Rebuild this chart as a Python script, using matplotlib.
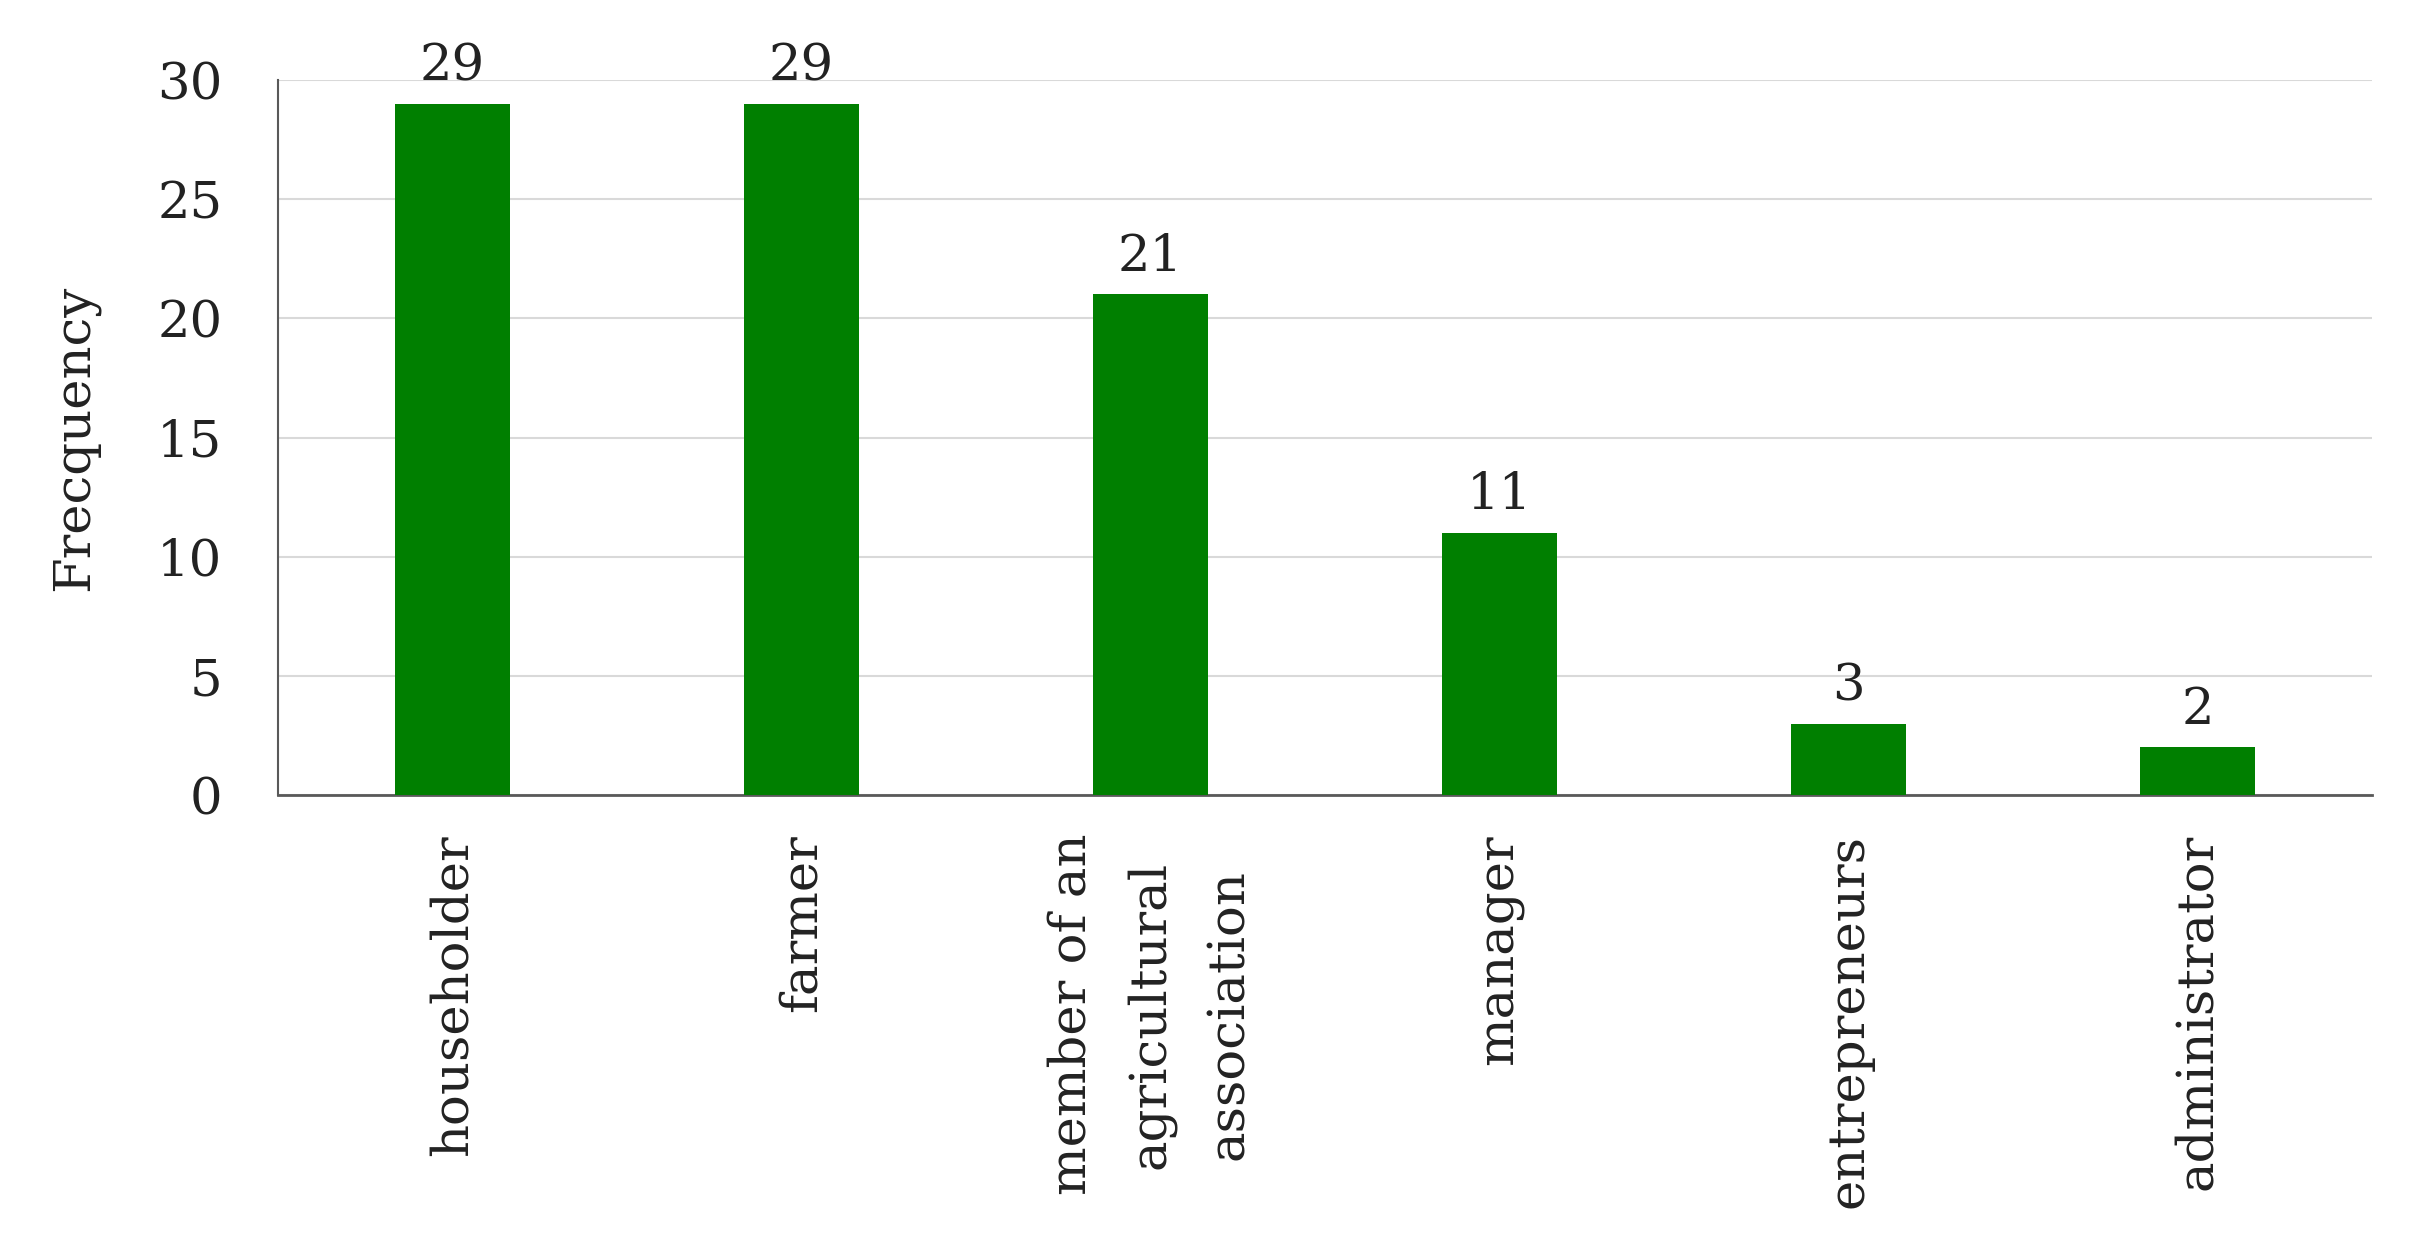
import matplotlib.pyplot as plt

categories = ["householder", "farmer", "member of an\nagricultural\nassociation",
              "manager", "entrepreneurs", "administrator"]
frequency = [29, 29, 21, 11, 3, 2]
yticks = [0, 5, 10, 15, 20, 25, 30]

plt.rcParams['font.family'] = ['DejaVu Serif']

fig = plt.figure(figsize=(24.26, 12.59), dpi=100)
ax = fig.add_axes([0.1146, 0.3685, 0.8632, 0.568])

x = range(len(categories))
bars = ax.bar(x, frequency, width=0.33, color='#007f00', zorder=3)

for rect, val in zip(bars, frequency):
    ax.annotate(str(val), (rect.get_x() + rect.get_width() / 2, val),
                xytext=(0, 9), textcoords='offset points',
                ha='center', va='bottom', fontsize=37, color='#222222')

ax.set_xlim(-0.5, len(categories) - 0.5)
ax.set_ylim(0, 30)
ax.set_yticks(yticks)
ax.set_xticks(list(x))
ax.set_xticklabels(categories, rotation=90, ha='center', va='top',
                   multialignment='center', linespacing=1.75, fontsize=37)
ax.tick_params(axis='both', length=0, labelsize=37, colors='#222222')
ax.tick_params(axis='y', pad=40)
ax.tick_params(axis='x', pad=28)

ax.yaxis.grid(True, color='#d9d9d9', linewidth=1.5, zorder=0)
for side in ['top', 'right']:
    ax.spines[side].set_visible(False)
ax.spines['left'].set_color('#595959')
ax.spines['bottom'].set_color('#595959')
ax.spines['left'].set_linewidth(1.5)
ax.spines['bottom'].set_linewidth(2)

ax.set_ylabel('Frecquency', fontsize=37, color='#222222', labelpad=42)

plt.savefig('out.png')
